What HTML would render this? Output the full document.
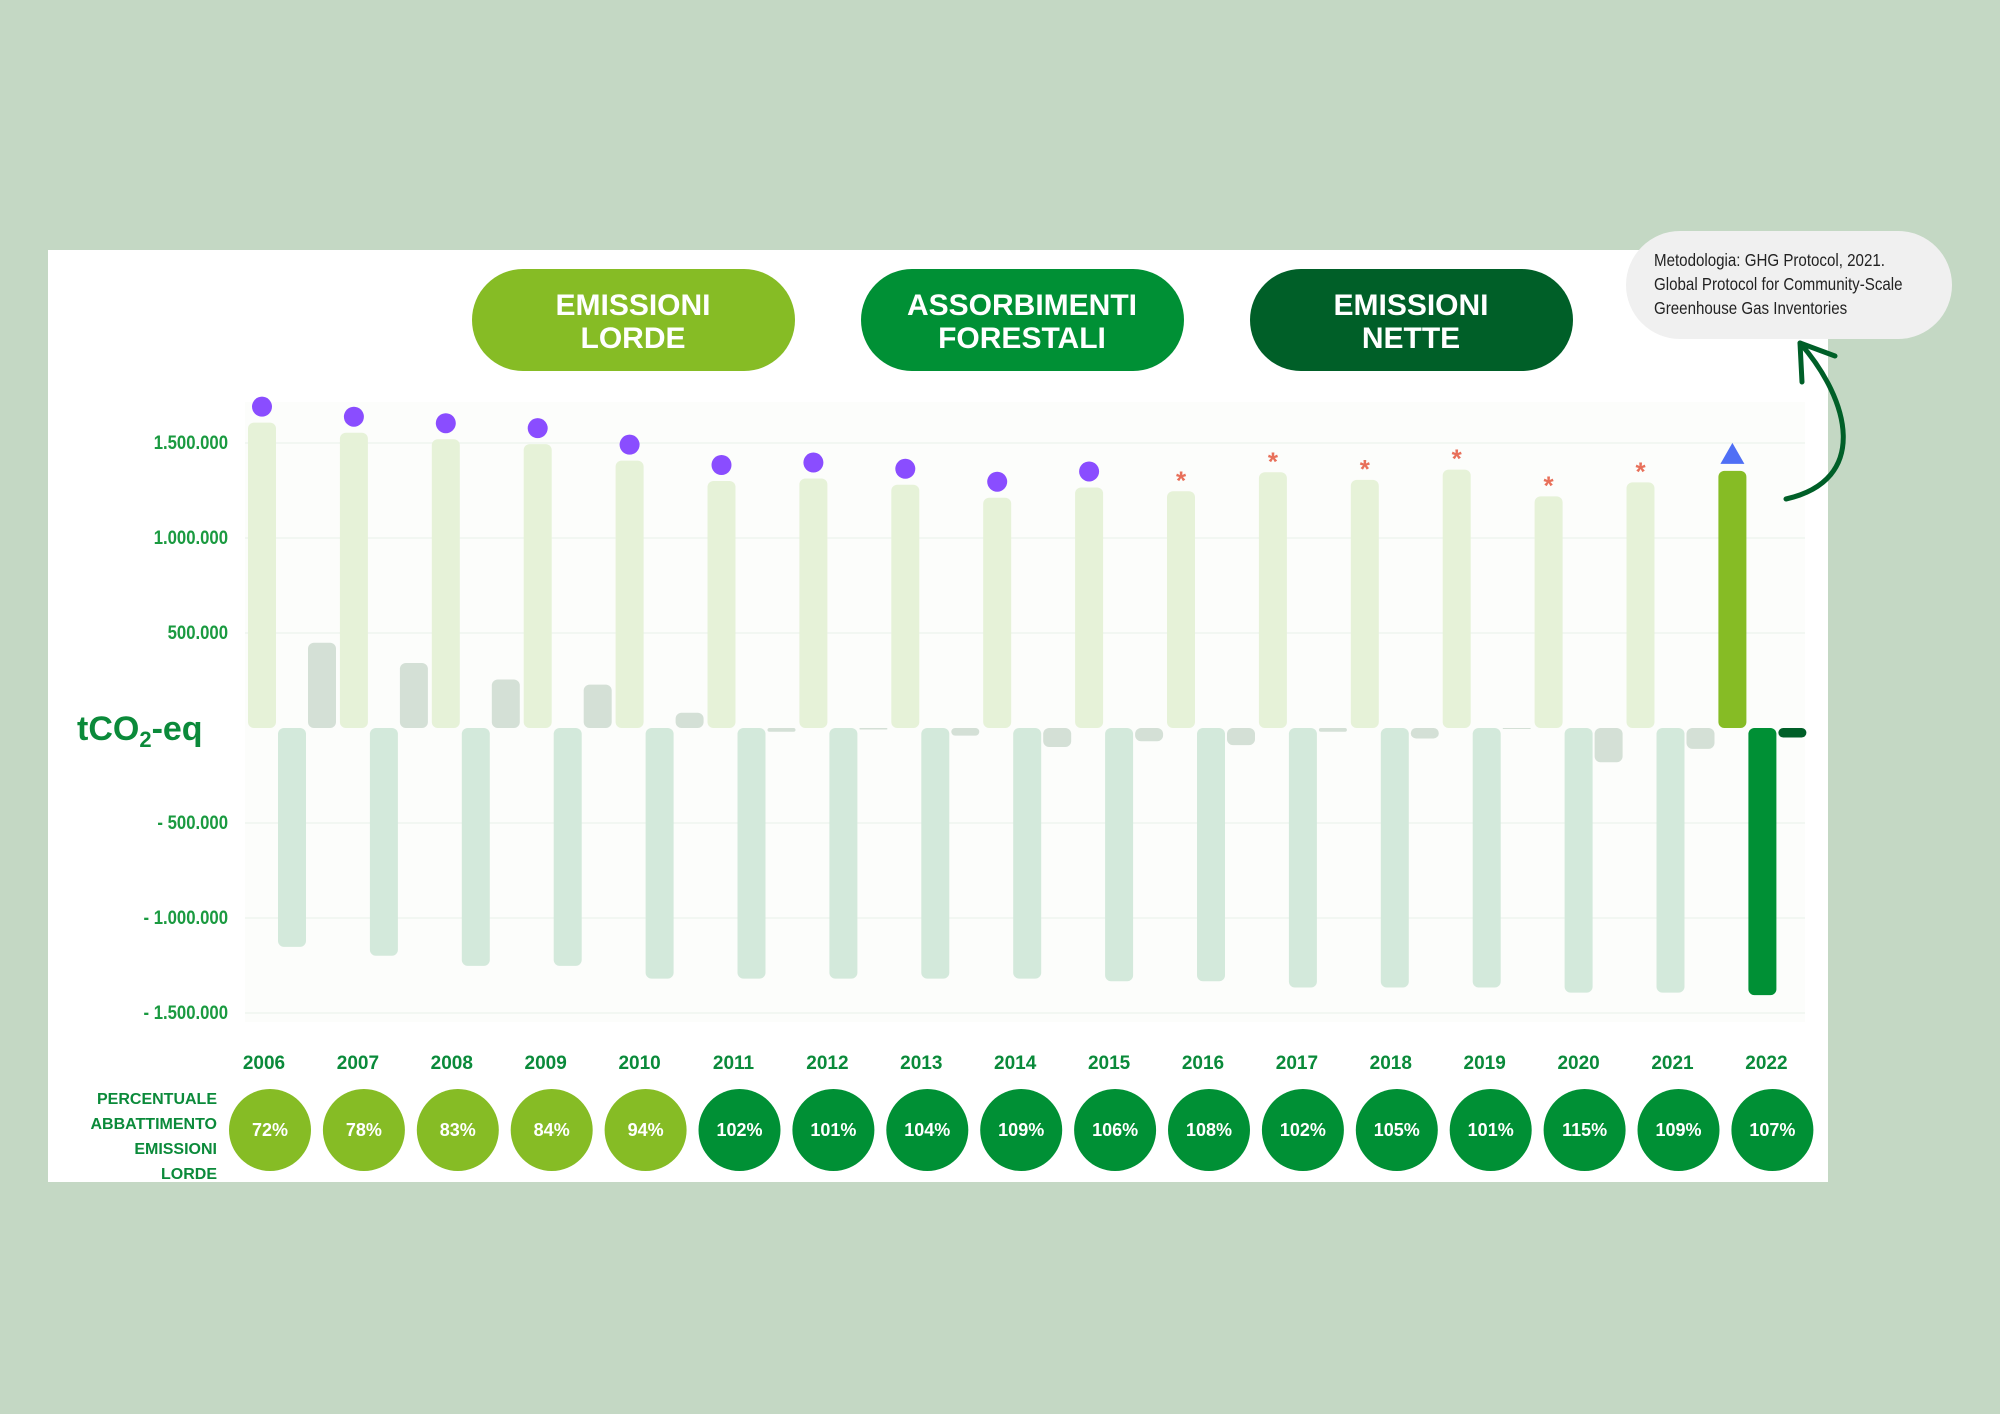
<!DOCTYPE html>
<html><head><meta charset="utf-8"><style>
html,body{margin:0;padding:0;background:#c4d8c4;}
svg{display:block;font-family:"Liberation Sans",sans-serif;}
</style></head><body>
<svg id="c" width="2000" height="1414" viewBox="0 0 2000 1414" xmlns="http://www.w3.org/2000/svg">
<rect x="0" y="0" width="2000" height="1414" fill="#c4d8c4"/>
<rect x="48" y="250" width="1780" height="932" fill="#ffffff"/>
<rect x="245" y="402" width="1560" height="620" fill="#fcfdfb"/>
<g id="grid"></g>
<g id="bars"></g>
<g id="marks"></g>
<g id="yax"></g>
<text x="77" y="740" font-size="34" font-weight="bold" fill="#0b8a3a">tCO<tspan font-size="22" dy="7">2</tspan><tspan dy="-7">-eq</tspan></text>
<g>
<rect x="472" y="269" width="323" height="102" rx="51" fill="#86bc25"/>
<text x="633" y="315" font-size="30" font-weight="bold" fill="#fff" text-anchor="middle">EMISSIONI</text>
<text x="633" y="348" font-size="30" font-weight="bold" fill="#fff" text-anchor="middle">LORDE</text>
<rect x="861" y="269" width="323" height="102" rx="51" fill="#009035"/>
<text x="1022" y="315" font-size="30" font-weight="bold" fill="#fff" text-anchor="middle">ASSORBIMENTI</text>
<text x="1022" y="348" font-size="30" font-weight="bold" fill="#fff" text-anchor="middle">FORESTALI</text>
<rect x="1250" y="269" width="323" height="102" rx="51" fill="#005f28"/>
<text x="1411" y="315" font-size="30" font-weight="bold" fill="#fff" text-anchor="middle">EMISSIONI</text>
<text x="1411" y="348" font-size="30" font-weight="bold" fill="#fff" text-anchor="middle">NETTE</text>
</g>
<g>
<rect x="1626" y="231" width="326" height="108" rx="54" fill="#f0f0f0"/>
<text font-size="18" fill="#222" transform="translate(1654,0) scale(0.84,1)">
<tspan x="0" y="266">Metodologia: GHG Protocol, 2021.</tspan>
<tspan x="0" y="290">Global Protocol for Community-Scale</tspan>
<tspan x="0" y="314">Greenhouse Gas Inventories</tspan></text>
</g>
<path d="M1786,499 C1870,480 1850,400 1800,343" fill="none" stroke="#005f28" stroke-width="5" stroke-linecap="round"/>
<path d="M1802,382 L1800,343 L1835,356" fill="none" stroke="#005f28" stroke-width="5" stroke-linecap="round" stroke-linejoin="round"/>
<text font-size="16" font-weight="bold" fill="#0b8a3a" text-anchor="end">
<tspan x="217" y="1104">PERCENTUALE</tspan><tspan x="217" y="1129">ABBATTIMENTO</tspan><tspan x="217" y="1154">EMISSIONI</tspan><tspan x="217" y="1179">LORDE</tspan></text>
<g id="xax"></g>
<g id="pct"></g>
</svg>
<script>
const years=["2006","2007","2008","2009","2010","2011","2012","2013","2014","2015","2016","2017","2018","2019","2020","2021","2022"];
const gross=[1.607,1.554,1.52,1.494,1.407,1.30,1.313,1.28,1.212,1.266,1.246,1.346,1.306,1.36,1.219,1.293,1.353];
const absorb=[-1.152,-1.199,-1.252,-1.252,-1.319,-1.319,-1.319,-1.319,-1.319,-1.333,-1.333,-1.366,-1.366,-1.366,-1.393,-1.393,-1.406];
const net=[0.449,0.342,0.255,0.228,0.08,-0.02,-0.008,-0.04,-0.1,-0.07,-0.09,-0.02,-0.055,-0.005,-0.18,-0.11,-0.05];
const markerType=["dot","dot","dot","dot","dot","dot","dot","dot","dot","dot","star","star","star","star","star","star","tri"];
const percents=["72%","78%","83%","84%","94%","102%","101%","104%","109%","106%","108%","102%","105%","101%","115%","109%","107%"];
const yTicks=[1.5,1,0.5,-0.5,-1,-1.5];
const yTickLabels=["1.500.000","1.000.000","500.000","- 500.000","- 1.000.000","- 1.500.000"];
const NS="http://www.w3.org/2000/svg";
function y(v){return 728-v*190;}
function x(i){return 262+i*91.9;}
function pcx(i){return 270+i*93.9;}
function mk(t,a,p){const e=document.createElementNS(NS,t);for(const k in a)e.setAttribute(k,a[k]);p.appendChild(e);return e;}
const grid=document.getElementById('grid'),bars=document.getElementById('bars'),marks=document.getElementById('marks'),yax=document.getElementById('yax'),xax=document.getElementById('xax'),pct=document.getElementById('pct');
yTicks.forEach((t,i)=>{
 const l=mk('line',{x1:245,x2:1805,y1:y(t),y2:y(t),stroke:'#f2f7f2','stroke-width':2},grid);
 
 
 const tx=mk('text',{x:0,y:0,'font-size':19,'font-weight':'bold',fill:'#1a9a40','text-anchor':'end',transform:`translate(228,${y(t)+6}) scale(0.88,1)`},yax);
 tx.textContent=yTickLabels[i];
 
 
});
function bar(cx,v,fill,name){
 const w=28,top=Math.min(y(v),y(0)),h=Math.abs(y(v)-y(0));
 const r=mk('rect',{x:cx-w/2,y:top,width:w,height:Math.max(h,1),rx:Math.min(6,h/2),fill:fill},bars);
 
 
}
years.forEach((yr,i)=>{
 const last=i===years.length-1;
 bar(x(i),gross[i],last?'#86bc25':'#e6f2d8','bar-gross-'+yr);
 bar(x(i)+30,absorb[i],last?'#009035':'#d3e9db','bar-absorption-'+yr);
 bar(x(i)+60,net[i],last?'#005f28':'#d4e0d6','bar-net-'+yr);
 const my=y(gross[i])-16;
 let m;
 if(markerType[i]==='dot'){m=mk('ellipse',{cx:x(i),cy:my,rx:10,ry:10,fill:'#8a4dff'},marks);}
 else if(markerType[i]==='star'){m=mk('text',{x:x(i),y:my+14,'font-size':26,'font-weight':'bold',fill:'#e8705a','text-anchor':'middle'},marks);m.textContent='*';}
 else {m=mk('polygon',{points:`${x(i)},${my-12} ${x(i)-12},${my+9} ${x(i)+12},${my+9}`,fill:'#4f6ff5'},marks);}
 
 
 const t=mk('text',{x:pcx(i)-6,y:1069,'font-size':19,'font-weight':'bold',fill:'#0a8a3a','text-anchor':'middle'},xax);
 t.textContent=yr;
 
 
 const c=mk('circle',{cx:pcx(i),cy:1130,r:41,fill:i<5?'#86bc25':'#009035'},pct);
 
 
 const pt=mk('text',{x:pcx(i),y:1136,'font-size':18,'font-weight':'bold',fill:'#fff','text-anchor':'middle'},pct);
 pt.textContent=percents[i];
 
 
});
</script>
</body></html>
